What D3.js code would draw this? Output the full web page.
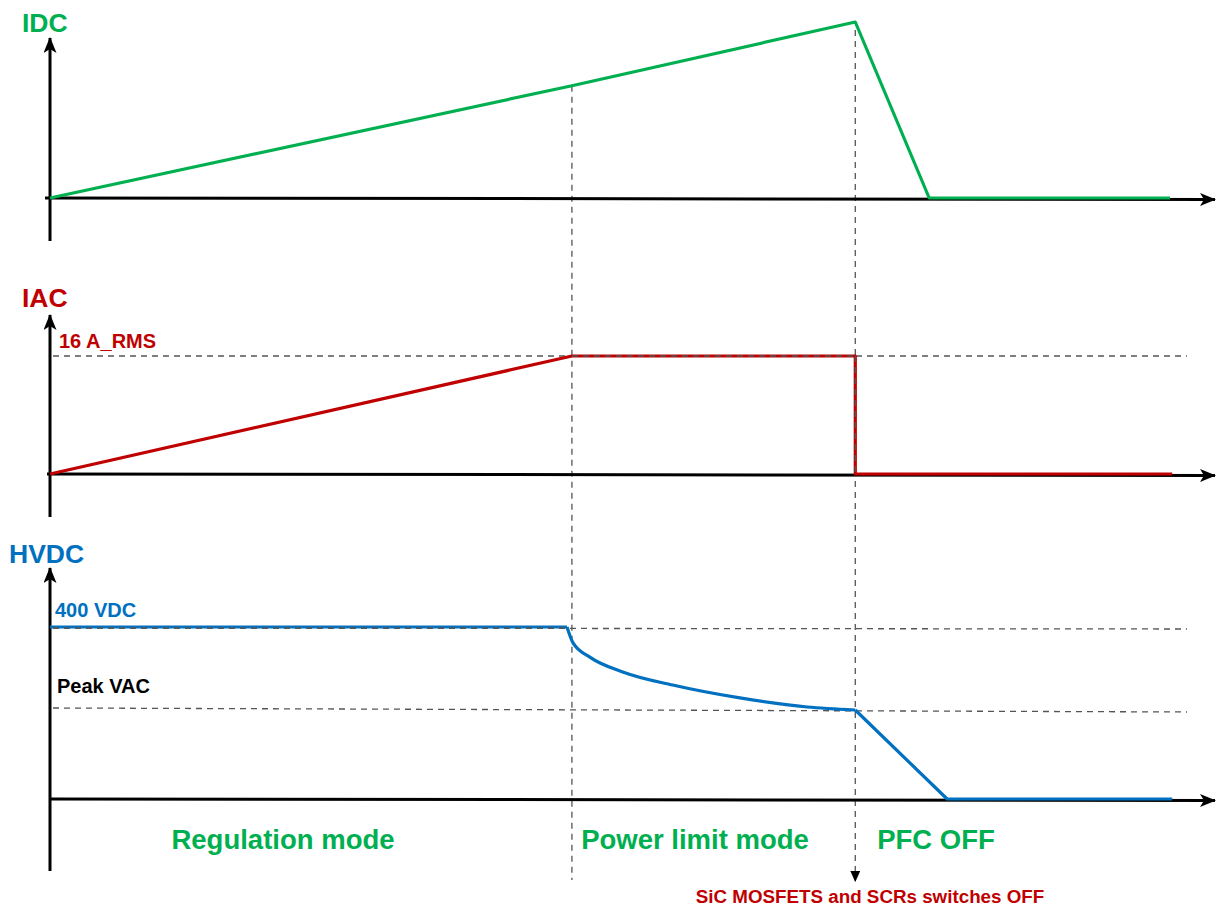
<!DOCTYPE html>
<html>
<head>
<meta charset="utf-8">
<script src="https://cdn.jsdelivr.net/npm/d3@7/dist/d3.min.js"></script>
<style>
  html, body { margin: 0; padding: 0; background: #fff; }
  svg { display: block; font-family: "Liberation Sans", Arial, sans-serif; font-weight: bold; }
</style>
</head>
<body>
<svg id="chart" width="1221" height="906"></svg>
<script>
// Normalised time: 0 = start, t1 = power limit reached, t2 = switches off
const phaseTimes = [0, 0.466, 0.719, 1.0];
const phaseLabels = ["Regulation mode", "Power limit mode", "PFC OFF"];

// DC output current (normalised)
const idcTime  = [0, 0.466, 0.719, 0.785, 1.0];
const idcValue = [0, 0.638, 1.0, 0, 0];

// AC input current (A rms)
const iacTime  = [0, 0.466, 0.719, 0.719, 1.002];
const iacValue = [0, 16, 16, 0, 0];
const iacLimit = 16;

// HVDC bus voltage (V)
const hvdcFlatTime  = [0, 0.4616];
const hvdcFlatValue = [400, 400];
const hvdcCurveTime  = [0.4616, 0.467, 0.482, 0.512, 0.556, 0.616, 0.676, 0.719];
const hvdcCurveValue = [400, 363, 330, 295, 265, 235, 214, 207];
const hvdcFallTime  = [0.719, 0.801, 1.002];
const hvdcFallValue = [207, 0, 0];
const hvdcNominal = 400;
const peakVac = 207;

const GREEN = "#00b050", RED = "#c00000", BLUE = "#0070c0";

const svg = d3.select("#chart");
const x = d3.scaleLinear().domain([0, 1]).range([50, 1170]);

const yIdc  = d3.scaleLinear().domain([0, 1]).range([198, 22]);
const yIac  = d3.scaleLinear().domain([0, 16]).range([474, 356]);
const yHvdc = d3.scaleLinear().domain([0, 400]).range([799, 627]);

// arrowhead markers
const defs = svg.append("defs");
defs.append("marker")
  .attr("id", "arrow").attr("viewBox", "0 0 16 13")
  .attr("refX", 15).attr("refY", 6.5)
  .attr("markerWidth", 16).attr("markerHeight", 13)
  .attr("markerUnits", "userSpaceOnUse")
  .attr("orient", "auto")
  .append("path").attr("d", "M0,0 L16,6.5 L0,13 L4,6.5 Z").attr("fill", "#000");
defs.append("marker")
  .attr("id", "arrowSmall").attr("viewBox", "0 0 10 9")
  .attr("refX", 9).attr("refY", 4.5)
  .attr("markerWidth", 11).attr("markerHeight", 10)
  .attr("markerUnits", "userSpaceOnUse")
  .attr("orient", "auto")
  .append("path").attr("d", "M0,0 L10,4.5 L0,9 Z").attr("fill", "#000");

const dash = { stroke: "#555", width: 1.3, array: "6,5" };

function dashed(x1, y1, x2, y2, marker) {
  const l = svg.append("line")
    .attr("x1", x1).attr("y1", y1).attr("x2", x2).attr("y2", y2)
    .attr("stroke", dash.stroke).attr("stroke-width", dash.width)
    .attr("stroke-dasharray", dash.array);
  if (marker) l.attr("marker-end", marker);
}

// phase boundary markers
dashed(x(phaseTimes[1]), yIdc(0.638), x(phaseTimes[1]), 880);
dashed(x(phaseTimes[2]), 30, x(phaseTimes[2]), 881, "url(#arrowSmall)");

// reference levels
dashed(53, yIac(iacLimit), 1187, yIac(iacLimit));
dashed(53, yHvdc(hvdcNominal) + 1, 1187, yHvdc(hvdcNominal) + 2);
dashed(53, yHvdc(peakVac) - 2, 1187, yHvdc(peakVac) + 2);

// axes
function axes(y, top, bottom, xStart) {
  svg.append("line")
    .attr("x1", x(0)).attr("y1", bottom).attr("x2", x(0)).attr("y2", top)
    .attr("stroke", "#000").attr("stroke-width", 3)
    .attr("marker-end", "url(#arrow)");
  svg.append("line")
    .attr("x1", xStart).attr("y1", y(0)).attr("x2", 1215).attr("y2", y(0) + 1.5)
    .attr("stroke", "#000").attr("stroke-width", 3)
    .attr("marker-end", "url(#arrow)");
}
axes(yIdc, 38, 241, 45);
axes(yIac, 315, 517, 47);
axes(yHvdc, 568, 871, 50);

function trace(times, values, y, color, curve) {
  const pts = times.map((t, i) => [t, values[i]]);
  svg.append("path")
    .datum(pts)
    .attr("d", d3.line().x(d => x(d[0])).y(d => y(d[1])).curve(curve || d3.curveLinear))
    .attr("fill", "none").attr("stroke", color).attr("stroke-width", 3.2)
    .attr("stroke-linejoin", "round");
}

trace(idcTime, idcValue, yIdc, GREEN);
trace(iacTime, iacValue, yIac, RED);
trace(hvdcFlatTime, hvdcFlatValue, yHvdc, BLUE);
trace(hvdcCurveTime, hvdcCurveValue, yHvdc, BLUE, d3.curveMonotoneX);
trace(hvdcFallTime, hvdcFallValue, yHvdc, BLUE);

// dashed overlays that sit on top of the traces
dashed(53, yHvdc(hvdcNominal) + 1, x(0.4616), yHvdc(hvdcNominal) + 1);
dashed(x(phaseTimes[1]), yIac(iacLimit), x(phaseTimes[2]), yIac(iacLimit));
dashed(x(phaseTimes[2]), yIac(iacLimit), x(phaseTimes[2]), yIac(0));

function label(txt, xp, yp, size, color, anchor) {
  svg.append("text").attr("x", xp).attr("y", yp)
    .attr("font-size", size).attr("fill", color)
    .attr("text-anchor", anchor || "start").text(txt);
}

label("IDC", 22, 32, 26.5, GREEN);
label("IAC", 22, 307, 26.5, RED);
label("HVDC", 9, 563, 26.5, BLUE);
label("16 A_RMS", 59, 348, 20, RED);
label("400 VDC", 55, 617, 20, BLUE);
label("Peak VAC", 57, 693, 20, "#000");

const centers = [283, 695, 936];
phaseLabels.forEach((p, i) => label(p, centers[i], 849, 27.5, GREEN, "middle"));
label("SiC MOSFETS and SCRs switches OFF", 870, 903, 18.8, RED, "middle");
</script>
</body>
</html>
